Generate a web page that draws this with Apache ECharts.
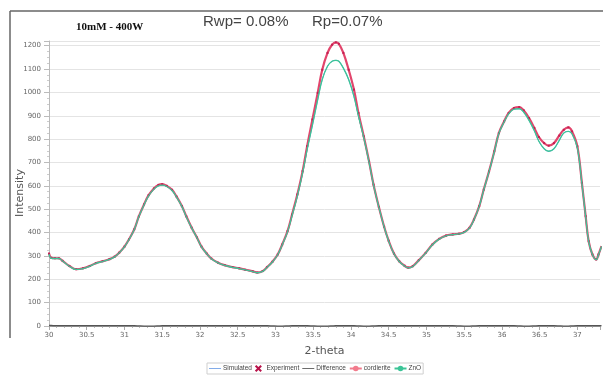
<!DOCTYPE html>
<html>
<head>
<meta charset="utf-8">
<script src="https://cdn.jsdelivr.net/npm/echarts@6/dist/echarts.min.js"></script>
<style>html,body{margin:0;padding:0;background:#fff;}#c{width:603px;height:385px;}</style>
</head>
<body>
<div id="c"></div>
<script>
// 2-theta positions
var twoTheta = [30.00,30.03,30.08,30.13,30.18,30.27,30.36,30.45,30.54,30.62,30.71,30.80,30.87,30.93,31.00,31.06,31.13,31.19,31.26,31.32,31.39,31.45,31.50,31.56,31.63,31.69,31.76,31.82,31.89,31.96,32.02,32.09,32.15,32.24,32.33,32.43,32.52,32.60,32.70,32.76,32.83,32.89,32.96,33.03,33.09,33.16,33.22,33.29,33.36,33.42,33.49,33.56,33.62,33.69,33.75,33.80,33.84,33.90,33.97,34.04,34.10,34.17,34.24,34.30,34.37,34.44,34.50,34.57,34.64,34.71,34.76,34.82,34.90,34.99,35.08,35.17,35.26,35.35,35.43,35.50,35.57,35.63,35.70,35.76,35.83,35.90,35.96,36.03,36.09,36.16,36.23,36.29,36.36,36.43,36.49,36.56,36.62,36.69,36.76,36.82,36.88,36.93,37.00,37.06,37.11,37.15,37.20,37.25,37.28,37.32];
// Experiment intensities
var experiment = [310,292,290,290,279,257,243,247,257,269,277,286,297,314,340,371,414,469,521,560,589,604,607,600,583,554,514,469,421,379,340,310,289,271,260,252,247,241,234,229,235,252,275,306,349,406,477,563,663,770,884,998,1097,1169,1204,1214,1208,1169,1097,1012,912,812,705,605,510,425,365,310,277,258,250,256,282,313,349,373,387,392,395,402,420,456,513,584,662,748,826,876,912,933,937,923,890,848,809,783,772,783,815,840,850,833,769,613,470,363,306,285,306,342];
// ZnO phase intensities
var zno = [308,290,289,289,278,256,242,246,256,268,276,285,296,313,339,370,413,468,519,557,586,600,603,597,580,552,512,467,420,378,339,309,288,270,259,251,246,240,233,228,234,251,274,305,347,403,472,556,655,755,860,969,1055,1112,1133,1137,1133,1104,1055,983,898,806,702,603,509,424,364,309,276,257,249,255,281,312,348,372,386,391,394,401,419,455,512,583,661,746,824,873,908,928,930,915,880,836,791,759,748,759,795,826,833,822,762,610,468,362,305,284,305,341];
// Simulated pattern (lies under ZnO)
var simulated = zno;
// Difference curve
var difference = [2,2,1,1,1,1,1,1,1,1,1,1,1,1,1,1,1,0,-1,-1,-1,0,1,1,1,1,1,1,1,1,1,1,1,1,1,1,1,1,1,1,1,1,0,-1,-1,0,1,1,1,1,0,-1,-1,-1,0,1,1,1,1,1,0,-1,-1,0,1,1,1,1,1,1,1,1,1,1,1,1,1,1,0,-1,-1,0,1,1,1,1,1,1,1,1,0,-1,-1,0,1,1,1,1,0,-1,-1,0,1,1,1,1,1,1,1,1];
// cordierite (no visible contribution)
var cordierite = [];
var xTickLabels = ['30','30.5','31','31.5','32','32.5','33','33.5','34','34.5','35','35.5','36','36.5','37'];
var yTickLabels = ['0','100','200','300','400','500','600','700','800','900','1000','1100','1200'];

function pairs(xs, ys){ var out=[]; for (var i=0;i<ys.length;i++) out.push([xs[i], ys[i]]); return out; }

var chart = echarts.init(document.getElementById('c'), null, {renderer:'canvas'});
var xPath = 'path://M0,2 L2,0 L5,3 L8,0 L10,2 L7,5 L10,8 L8,10 L5,7 L2,10 L0,8 L3,5 Z';
var linePath = 'path://M0,0 L14,0 L14,1 L0,1 Z';
chart.setOption({
  animation:false,
  backgroundColor:'#fff',
  grid:{left:49, right:0, top:41, bottom:59},
  graphic:[
    {type:'line', shape:{x1:10,y1:11,x2:603,y2:11}, style:{stroke:'#666', lineWidth:1.5}},
    {type:'line', shape:{x1:10,y1:11,x2:10,y2:338}, style:{stroke:'#666', lineWidth:1.5}},
    {type:'text', left:76, top:22, style:{text:'10mM - 400W', font:'bold 11px "Liberation Serif", serif', fill:'#111'}},
    {type:'text', left:203, top:14, style:{text:'Rwp= 0.08%', font:'15px "Liberation Sans", Arial, sans-serif', fill:'#444'}},
    {type:'text', left:312, top:14, style:{text:'Rp=0.07%', font:'15px "Liberation Sans", Arial, sans-serif', fill:'#444'}},
    {type:'text', x:20, y:193, rotation:Math.PI/2, style:{text:'Intensity', font:'11px "DejaVu Sans", sans-serif', fill:'#555', align:'center', verticalAlign:'middle'}}
  ],
  legend:{
    left:207, top:363,
    borderColor:'#cfcfcf', borderWidth:1, padding:[2,2],
    itemWidth:12, itemHeight:7, itemGap:3,
    textStyle:{fontSize:6.5, color:'#444', fontFamily:'"Liberation Sans", Arial, sans-serif', padding:[0,0,0,-3]},
    data:[
      {name:'Simulated', icon:linePath, itemStyle:{color:'#6f9ee6'}},
      {name:'Experiment', icon:xPath, itemStyle:{color:'#b8124a'}},
      {name:'Difference', icon:linePath, itemStyle:{color:'#555'}},
      {name:'cordierite'},
      {name:'ZnO'}
    ]
  },
  xAxis:{
    type:'value', min:30, max:37.3, interval:0.5,
    name:'2-theta', nameLocation:'middle', nameGap:20,
    nameTextStyle:{fontSize:11, color:'#555', fontFamily:'"DejaVu Sans", sans-serif'},
    axisLine:{show:true, onZero:false, lineStyle:{color:'#aaa', width:1}},
    axisTick:{show:true, length:4, lineStyle:{color:'#aaa'}},
    minorTick:{show:true, splitNumber:5, length:2, lineStyle:{color:'#bbb'}},
    splitLine:{show:false},
    axisLabel:{fontSize:7, color:'#666', margin:6, fontFamily:'"DejaVu Sans", sans-serif',
      formatter:function(v){ var s=String(Math.round(v*10)/10); return xTickLabels.indexOf(s)>=0 ? s : ''; }}
  },
  yAxis:{
    type:'value', min:0, max:1220, interval:100,
    axisLine:{show:true, lineStyle:{color:'#bbb', width:1}},
    axisTick:{show:true, length:5, lineStyle:{color:'#bbb'}},
    minorTick:{show:true, splitNumber:4, length:2, lineStyle:{color:'#ccc'}},
    splitLine:{show:true, lineStyle:{color:'#e4e4e4', width:1}},
    axisLabel:{fontSize:7, color:'#666', margin:8, fontFamily:'"DejaVu Sans", sans-serif',
      formatter:function(v){ var s=String(v); return yTickLabels.indexOf(s)>=0 ? s : ''; }}
  },
  series:[
    {name:'Simulated', type:'line', data:pairs(twoTheta, simulated), symbol:'none', smooth:0.4,
      lineStyle:{color:'#6f9ee6', width:1}, itemStyle:{color:'#6f9ee6'}, z:1},
    {name:'Experiment', type:'line', data:pairs(twoTheta, experiment), symbol:'rect', symbolSize:2, showSymbol:true, smooth:0.4,
      lineStyle:{color:'#e2456c', width:2.2}, itemStyle:{color:'#c41f52'}, z:2},
    {name:'Difference', type:'line', data:pairs(twoTheta, difference), symbol:'none', smooth:0.3,
      lineStyle:{color:'#555', width:1.5}, itemStyle:{color:'#555'}, z:3},
    {name:'cordierite', type:'line', data:pairs(twoTheta, cordierite), symbol:'circle', showSymbol:false,
      lineStyle:{color:'#f27b8c', width:1.5}, itemStyle:{color:'#f27b8c'}, z:4},
    {name:'ZnO', type:'line', data:pairs(twoTheta, zno), symbol:'circle', showSymbol:false, smooth:0.4,
      lineStyle:{color:'#3cc497', width:1.3}, itemStyle:{color:'#3cc497'}, z:5}
  ]
});
</script>
</body>
</html>
